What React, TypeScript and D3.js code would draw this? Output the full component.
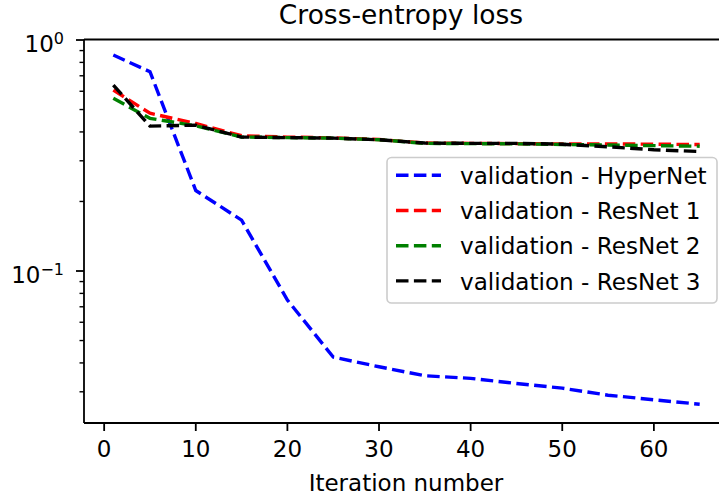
import React from "react";
import * as d3 from "d3";

const iterations = [1, 5, 10, 15, 20, 25, 30, 35, 40, 45, 50, 55, 60, 65];
const hyperNet = [0.861, 0.729, 0.223, 0.166, 0.0749, 0.0424, 0.0385, 0.0352, 0.0343, 0.0326, 0.0311, 0.029, 0.0277, 0.0265];
const resNet1 = [0.607, 0.482, 0.435, 0.385, 0.38, 0.377, 0.371, 0.358, 0.357, 0.356, 0.355, 0.355, 0.354, 0.353];
const resNet2 = [0.559, 0.458, 0.425, 0.38, 0.378, 0.376, 0.37, 0.357, 0.356, 0.355, 0.353, 0.351, 0.349, 0.347];
const resNet3 = [0.638, 0.424, 0.428, 0.38, 0.378, 0.376, 0.37, 0.358, 0.357, 0.357, 0.354, 0.345, 0.335, 0.329];

const seriesNames = ["validation - HyperNet", "validation - ResNet 1", "validation - ResNet 2", "validation - ResNet 3"];
const seriesColors = ["#0000ff", "#ff0000", "#008000", "#000000"];
const seriesValues = [hyperNet, resNet1, resNet2, resNet3];

const xTicks = [0, 10, 20, 30, 40, 50, 60];
const yMajor = [{ v: 1, exp: "0" }, { v: 0.1, exp: "\u22121" }];

const W = 719;
const H = 497;
const L = 84, R = 729, T = 39.5, B = 423;
const FONT = "DejaVu Sans, sans-serif";

export default function App() {
  const x = d3.scaleLinear().domain([-2.2, 68.2]).range([L, R]);
  const y = d3.scaleLog().domain([Math.pow(10, -1.658), Math.pow(10, 0.0022)]).range([B, T]);

  const line = d3
    .line<[number, number]>()
    .x((d) => x(d[0]))
    .y((d) => y(d[1]));

  const minor: number[] = [];
  for (const dec of [0.01, 0.1]) {
    for (let k = 2; k <= 9; k++) {
      const v = k * dec;
      if (y(v) <= B && y(v) >= T) minor.push(v);
    }
  }

  const legendRows = [175.3, 210.5, 245.7, 280.9];

  return (
    <svg
      width={W}
      height={H}
      style={{ position: "absolute", left: 0, top: 0, background: "#fff" }}
      fontFamily={FONT}
    >
      <defs>
        <clipPath id="plotclip">
          <rect x={L} y={T} width={R - L} height={B - T} />
        </clipPath>
      </defs>
      <rect x={0} y={0} width={W} height={H} fill="#fff" />

      <text x={401} y={24} textAnchor="middle" fontSize={26.5} fill="#000">
        Cross-entropy loss
      </text>

      <g clipPath="url(#plotclip)">
        {seriesValues.map((vals, i) => (
          <path
            key={i}
            d={line(iterations.map((it, j) => [it, vals[j]] as [number, number])) || ""}
            fill="none"
            stroke={seriesColors[i]}
            strokeWidth={3.4}
            strokeDasharray="12.5 5.4"
          />
        ))}
      </g>

      <g stroke="#000" strokeWidth={1.8} fill="none">
        <line x1={L} y1={T} x2={L} y2={B} />
        <line x1={L} y1={B} x2={R} y2={B} />
        <line x1={L} y1={T} x2={R} y2={T} />
        <line x1={R} y1={T} x2={R} y2={B} />
      </g>

      {xTicks.map((t) => (
        <g key={t}>
          <line x1={x(t)} y1={B} x2={x(t)} y2={B + 8} stroke="#000" strokeWidth={1.8} />
          <text x={x(t)} y={457} textAnchor="middle" fontSize={23} fill="#000">
            {t}
          </text>
        </g>
      ))}

      {yMajor.map((t) => (
        <g key={t.v}>
          <line x1={L - 8} y1={y(t.v)} x2={L} y2={y(t.v)} stroke="#000" strokeWidth={1.8} />
          <text x={64} y={y(t.v) + 12} textAnchor="end" fontSize={23} fill="#000">
            10
            <tspan dy={-8.5} fontSize={16}>
              {t.exp}
            </tspan>
          </text>
        </g>
      ))}

      {minor.map((v) => (
        <line key={v} x1={L - 4.5} y1={y(v)} x2={L} y2={y(v)} stroke="#000" strokeWidth={1.4} />
      ))}

      <text x={406} y={491} textAnchor="middle" fontSize={23} fill="#000">
        Iteration number
      </text>

      <rect
        x={387}
        y={157.5}
        width={330}
        height={145.5}
        rx={4.5}
        ry={4.5}
        fill="#fff"
        fillOpacity={0.8}
        stroke="#cccccc"
        strokeWidth={1.6}
      />
      {seriesNames.map((name, i) => (
        <g key={name}>
          <line
            x1={396}
            y1={legendRows[i]}
            x2={441}
            y2={legendRows[i]}
            stroke={seriesColors[i]}
            strokeWidth={3.4}
            strokeDasharray="12.5 5.4"
          />
          <text x={460} y={legendRows[i] + 8.7} fontSize={23.1} fill="#000">
            {name}
          </text>
        </g>
      ))}
    </svg>
  );
}
